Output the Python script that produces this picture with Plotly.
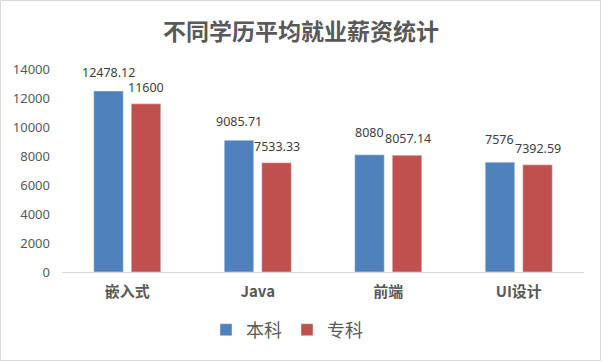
import plotly.graph_objects as go

categories = ["嵌入式", "Java", "前端", "UI设计"]
benke = [12478.12, 9085.71, 8080, 7576]
zhuanke = [11600, 7533.33, 8057.14, 7392.59]
benke_labels = ["12478.12", "9085.71", "8080", "7576"]
zhuanke_labels = ["11600", "7533.33", "8057.14", "7392.59"]
y_ticks = [0, 2000, 4000, 6000, 8000, 10000, 12000, 14000]
y_tick_labels = ["0", "2000", "4000", "6000", "8000", "10000", "12000", "14000"]

W, H = 602, 362
ML, MR, MT, MB = 62, 18, 69, 90
BARGAP, GROUPGAP = 0.425, 0.213
YMAX = 14000
font_cjk = "Noto Sans CJK SC, Noto Sans, sans-serif"
font_num = "Noto Sans, sans-serif"
LABEL_SIZE = 12.5

fig = go.Figure()
fig.add_trace(go.Bar(x=categories, y=benke, name="本科", marker_color="#4F81BD"))
fig.add_trace(go.Bar(x=categories, y=zhuanke, name="专科", marker_color="#C0504D"))

pw = W - ML - MR
ph = H - MT - MB
cat_px = pw / len(categories)
slot_px = cat_px * (1 - BARGAP) / 2


def est_width(s):
    return sum(0.28 if ch == "." else 0.572 for ch in s) * LABEL_SIZE


# data labels above bars; when the pair would collide, nudge like Excel does
for i, c in enumerate(categories):
    vb, vz = benke[i], zhuanke[i]
    tb, tz = benke_labels[i], zhuanke_labels[i]
    left_right_edge = -slot_px / 2 + est_width(tb) / 2
    right_left_edge = slot_px / 2 - est_width(tz) / 2
    dy_px = abs(vb - vz) / YMAX * ph
    nudge_x, lift = 0.0, 0.0
    if dy_px < LABEL_SIZE and right_left_edge < left_right_edge + 1:
        nudge_x = left_right_edge + 1 - right_left_edge
        lift = 4
    fig.add_annotation(x=c, y=vb, text=tb, showarrow=False, xref="x", yref="y",
                       xshift=-slot_px / 2, yshift=8 + lift, yanchor="bottom",
                       font=dict(family=font_num, size=LABEL_SIZE, color="#404040"))
    fig.add_annotation(x=c, y=vz, text=tz, showarrow=False, xref="x", yref="y",
                       xshift=slot_px / 2 + nudge_x, yshift=6, yanchor="bottom",
                       font=dict(family=font_num, size=LABEL_SIZE, color="#404040"))

fig.add_shape(type="rect", xref="paper", yref="paper",
              x0=(-ML + 0.5) / pw, x1=(pw + MR - 1.5) / pw,
              y0=(-MB + 1.5) / ph, y1=(ph + MT - 0.5) / ph,
              line=dict(color="#D9D9D9", width=1), fillcolor="rgba(0,0,0,0)", layer="below")

fig.update_layout(
    width=W, height=H,
    margin=dict(l=ML, r=MR, t=MT, b=MB, autoexpand=False),
    paper_bgcolor="white", plot_bgcolor="white",
    font=dict(family=font_cjk, color="#595959"),
    title=dict(text="<b>不同学历平均就业薪资统计</b>", x=0.5, xref="container", xanchor="center",
               y=1 - 32 / H, yanchor="middle", font=dict(size=23, color="#595959")),
    barmode="group", bargap=BARGAP, bargroupgap=GROUPGAP,
    xaxis=dict(showline=True, linecolor="#D9D9D9", linewidth=1, ticks="",
               tickfont=dict(size=15, color="#595959"), showgrid=False,
               tickprefix="<b>", ticksuffix="</b>", ticklabelstandoff=6),
    yaxis=dict(range=[0, YMAX], tickvals=y_ticks, ticktext=y_tick_labels,
               showgrid=False, zeroline=False, showline=False,
               tickfont=dict(family=font_num, size=13, color="#595959"), ticklabelstandoff=11),
    legend=dict(orientation="h", x=206 / W, xref="container", xanchor="left",
                y=1 - 330 / H, yref="container", yanchor="middle",
                font=dict(size=18, color="#595959"), itemwidth=30,
                traceorder="normal"),
    showlegend=True,
)

fig.write_html("out.html", config={"displayModeBar": False},
               post_script="document.body.style.margin='0';")
